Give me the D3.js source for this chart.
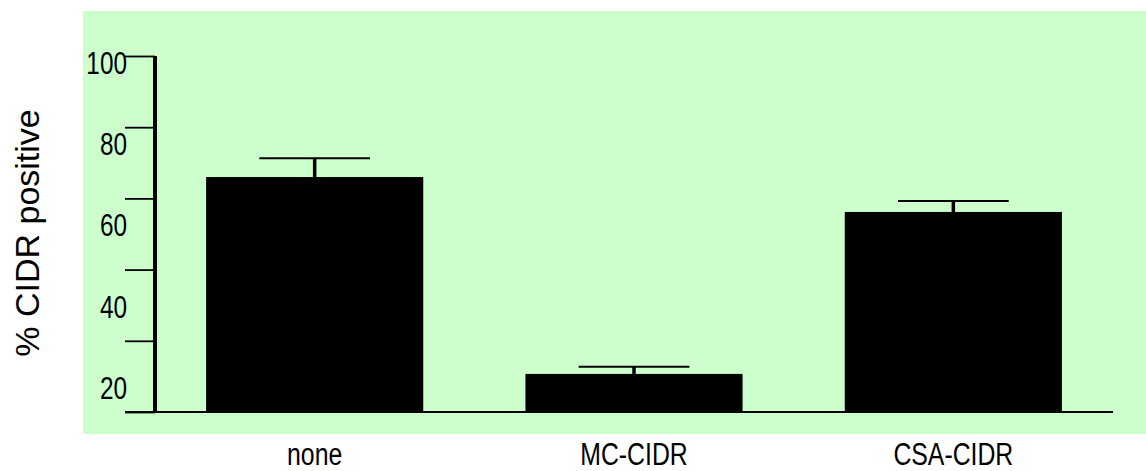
<!DOCTYPE html>
<html>
<head>
<meta charset="utf-8">
<script src="https://cdn.jsdelivr.net/npm/d3@7"></script>
<style>
  body { margin: 0; background: #fff; }
  text { font-family: "Liberation Sans", Arial, sans-serif; fill: #000; }
</style>
</head>
<body>
<svg id="chart" width="1146" height="471"></svg>
<script>
// values
const categories = ["none", "MC-CIDR", "CSA-CIDR"];
const means = [66.0, 10.7, 56.2];
const errors = [5.3, 2.0, 3.1];
const tickValues = [0, 20, 40, 60, 80, 100];
const tickLabels = ["100", "80", "60", "40", "20"];

const svg = d3.select("#chart");

// green panel behind the plot
svg.append("rect")
  .attr("x", 83).attr("y", 11)
  .attr("width", 1146 - 83).attr("height", 434 - 11)
  .attr("fill", "#ccffcc");

const x = d3.scaleBand()
  .domain(categories)
  .range([155, 1113])
  .paddingInner(0.32)
  .paddingOuter(0.16);

const y = d3.scaleLinear()
  .domain([0, 100])
  .range([412, 56]);

const data = categories.map((c, i) => ({ cat: c, mean: means[i], err: errors[i] }));

// bars
svg.selectAll(".bar")
  .data(data)
  .join("rect")
  .attr("class", "bar")
  .attr("x", d => x(d.cat))
  .attr("y", d => y(d.mean))
  .attr("width", x.bandwidth())
  .attr("height", d => y(0) - y(d.mean))
  .attr("fill", "#000");

// error bars (upper only)
const capW = x.bandwidth() * 0.51;
const eb = svg.selectAll(".err").data(data).join("g").attr("class", "err");
eb.append("line")
  .attr("x1", d => x(d.cat) + x.bandwidth() / 2)
  .attr("x2", d => x(d.cat) + x.bandwidth() / 2)
  .attr("y1", d => y(d.mean))
  .attr("y2", d => y(d.mean + d.err))
  .attr("stroke", "#000").attr("stroke-width", 3.5);
eb.append("line")
  .attr("x1", d => x(d.cat) + x.bandwidth() / 2 - capW / 2)
  .attr("x2", d => x(d.cat) + x.bandwidth() / 2 + capW / 2)
  .attr("y1", d => y(d.mean + d.err))
  .attr("y2", d => y(d.mean + d.err))
  .attr("stroke", "#000").attr("stroke-width", 2);

// y axis: ticks only, labels drawn separately
const yAxis = svg.append("g")
  .attr("transform", "translate(155,0)")
  .call(d3.axisLeft(y).tickValues(tickValues).tickSize(30).tickFormat(""));
yAxis.select(".domain").remove();
yAxis.selectAll(".tick line").attr("stroke", "#000").attr("stroke-width", 1.8);

svg.append("line")
  .attr("x1", 155).attr("x2", 155)
  .attr("y1", y(100)).attr("y2", y(0))
  .attr("stroke", "#000").attr("stroke-width", 4);

// baseline
svg.append("line")
  .attr("x1", 125).attr("x2", x.range()[1])
  .attr("y1", y(0)).attr("y2", y(0))
  .attr("stroke", "#000").attr("stroke-width", 2);

// tick labels sit off the ticks in the original
const labelY = d3.scalePoint().domain(tickLabels).range([63, 388]);
svg.selectAll(".ylab")
  .data(tickLabels)
  .join("g")
  .attr("class", "ylab")
  .attr("transform", d => `translate(127,${labelY(d)}) scale(0.84,1.05)`)
  .append("text")
  .attr("text-anchor", "end")
  .attr("dy", "0.36em")
  .style("font-size", "29px")
  .text(d => d);

// category labels
svg.selectAll(".xlab")
  .data(categories)
  .join("g")
  .attr("class", "xlab")
  .attr("transform", d => `translate(${x(d) + x.bandwidth() / 2},465) scale(0.8,1)`)
  .append("text")
  .attr("text-anchor", "middle")
  .style("font-size", "31px")
  .text(d => d);

// y title
svg.append("text")
  .attr("transform", "translate(27,233) rotate(-90)")
  .attr("text-anchor", "middle")
  .attr("dy", "0.35em")
  .style("font-size", "34px")
  .text("% CIDR positive");
</script>
</body>
</html>
